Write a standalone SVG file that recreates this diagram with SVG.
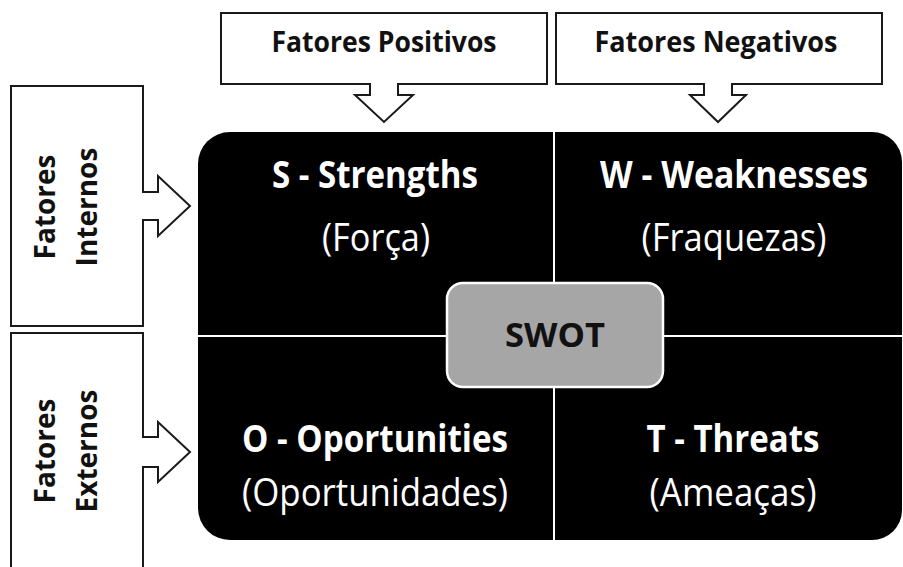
<svg xmlns="http://www.w3.org/2000/svg" width="903" height="567" viewBox="0 0 903 567">
  <style>
    .callout { fill: #ffffff; stroke: #1a1a1a; stroke-width: 2; stroke-linejoin: miter; }
    .quad { fill: #000000; }
    .head { font-family: "Open Sans", "Liberation Sans", sans-serif; font-weight: 700; fill: #111111; text-anchor: middle; }
    .title { font-family: "Open Sans", "Liberation Sans", sans-serif; font-weight: 700; font-size: 37px; fill: #ffffff; text-anchor: middle; }
    .sub { font-family: "Open Sans", "Liberation Sans", sans-serif; font-weight: 400; font-size: 38px; fill: #ffffff; text-anchor: middle; }
  </style>

  <rect width="903" height="567" fill="#ffffff"/>

  <!-- column headers with down arrows -->
  <g id="positivos">
    <path class="callout" d="M221,13 H547 V84 H398 V95 H413 L384,122 L355,95 H370 V84 H221 Z"/>
    <text class="head" x="384" y="52" font-size="29" textLength="225" lengthAdjust="spacingAndGlyphs">Fatores Positivos</text>
  </g>
  <g id="negativos">
    <path class="callout" d="M556,13 H882 V84 H732 V95 H746 L718,122 L690,95 H704 V84 H556 Z"/>
    <text class="head" x="716" y="52" font-size="29" textLength="243" lengthAdjust="spacingAndGlyphs">Fatores Negativos</text>
  </g>

  <!-- row headers with right arrows -->
  <g id="internos">
    <path class="callout" d="M11,86 H143 V192 H158 V176 L190,206 L158,236 V220 H143 V326 H11 Z"/>
    <text class="head" font-size="28" transform="translate(55,207) rotate(-90)">Fatores</text>
    <text class="head" font-size="28" transform="translate(97,207) rotate(-90)">Internos</text>
  </g>
  <g id="externos">
    <path class="callout" d="M11,580 V333 H143 V437 H158 V422 L190,452 L158,482 V467 H143 V580"/>
    <text class="head" font-size="28" transform="translate(55,451) rotate(-90)">Fatores</text>
    <text class="head" font-size="28" transform="translate(97,451) rotate(-90)">Externos</text>
  </g>

  <!-- quadrants -->
  <g id="strengths">
    <path class="quad" d="M198,335 V164 A32,32 0 0 1 230,132 H553 V335 Z"/>
    <text class="title" x="375" y="188" textLength="206" lengthAdjust="spacingAndGlyphs">S - Strengths</text>
    <text class="sub" x="376" y="251" textLength="108" lengthAdjust="spacingAndGlyphs">(Força)</text>
  </g>
  <g id="weaknesses">
    <path class="quad" d="M555,132 H872 A30,30 0 0 1 902,162 V335 H555 Z"/>
    <text class="title" x="734" y="188" textLength="268" lengthAdjust="spacingAndGlyphs">W - Weaknesses</text>
    <text class="sub" x="734" y="251" textLength="185" lengthAdjust="spacingAndGlyphs">(Fraquezas)</text>
  </g>
  <g id="opportunities">
    <path class="quad" d="M198,337 H553 V540 H230 A32,32 0 0 1 198,508 Z"/>
    <text class="title" x="375" y="452" textLength="266" lengthAdjust="spacingAndGlyphs">O - Oportunities</text>
    <text class="sub" x="375" y="506" textLength="266" lengthAdjust="spacingAndGlyphs">(Oportunidades)</text>
  </g>
  <g id="threats">
    <path class="quad" d="M555,337 H902 V510 A30,30 0 0 1 872,540 H555 Z"/>
    <text class="title" x="733" y="452" textLength="173" lengthAdjust="spacingAndGlyphs">T - Threats</text>
    <text class="sub" x="733" y="506" textLength="167" lengthAdjust="spacingAndGlyphs">(Ameaças)</text>
  </g>

  <!-- centre badge -->
  <g id="swot">
    <rect x="447" y="283" width="216" height="104" rx="16" ry="16" fill="#a6a6a6" stroke="#ffffff" stroke-width="2.5"/>
    <text class="head" x="555" y="347" font-size="34" fill="#111111" textLength="100" lengthAdjust="spacingAndGlyphs">SWOT</text>
  </g>
</svg>
